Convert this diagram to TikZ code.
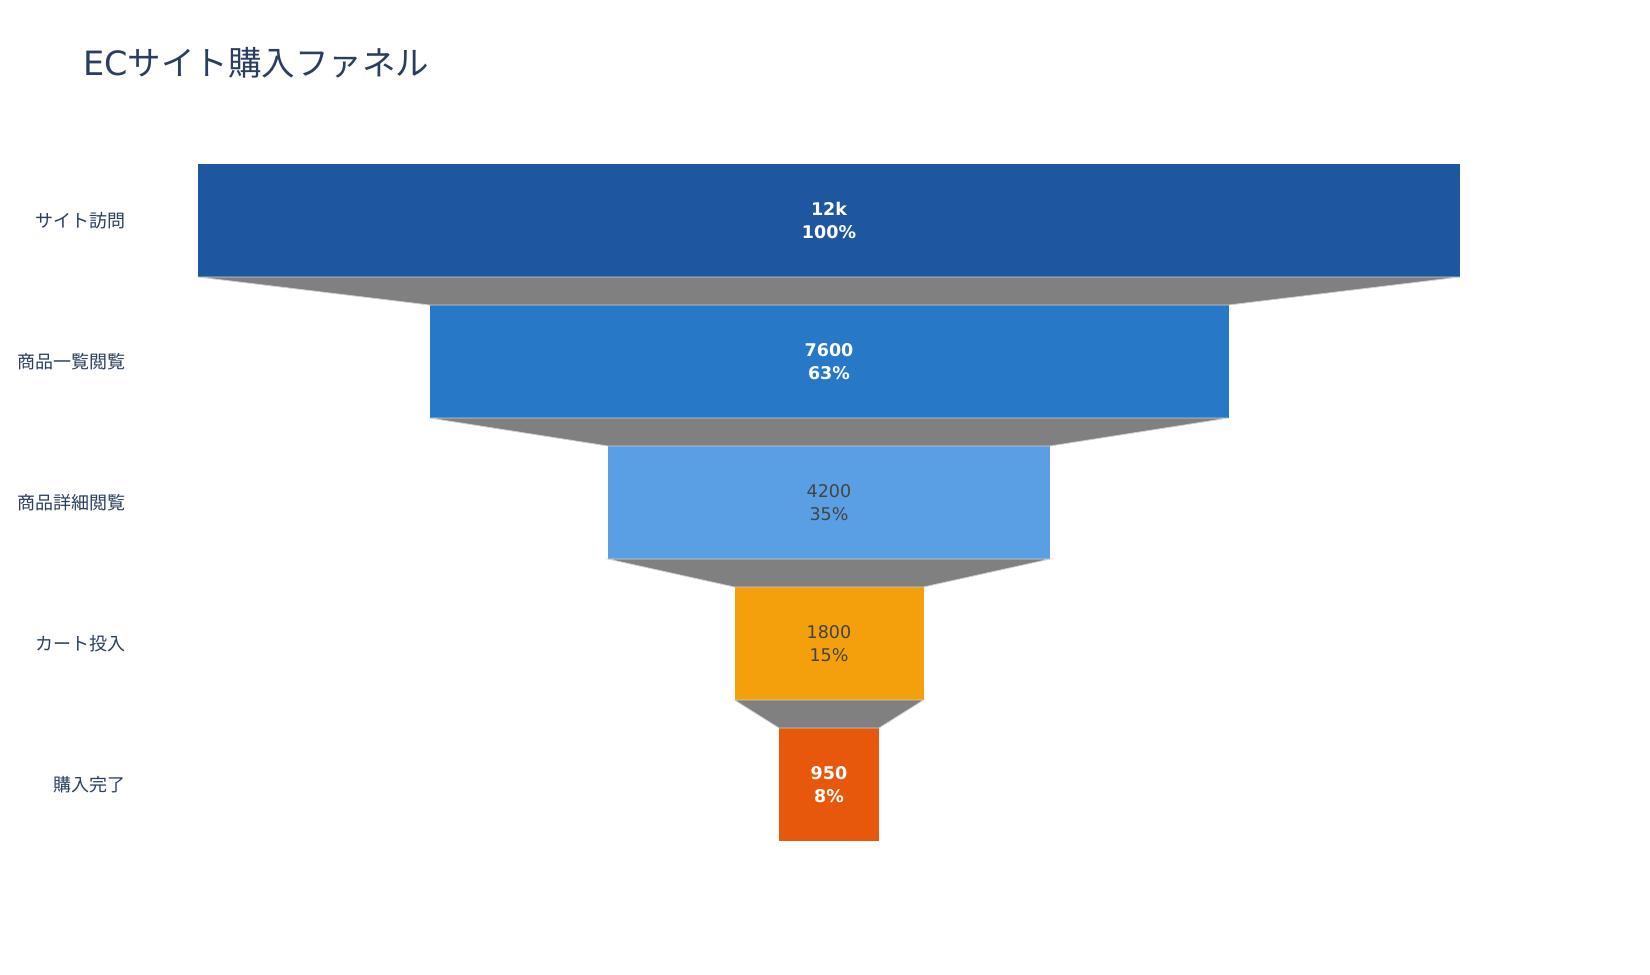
\documentclass[tikz,border=0pt]{standalone}
\usepackage{fontspec}
\setmainfont{DejaVu Sans}
\newfontfamily\jpfont{Noto Sans CJK JP}
\usetikzlibrary{positioning}
\definecolor{inkblue}{HTML}{2A3F5F}
\definecolor{numgray}{HTML}{444444}
\definecolor{visitcol}{HTML}{1F56A0}
\definecolor{listcol}{HTML}{2878C8}
\definecolor{detailcol}{HTML}{5A9FE4}
\definecolor{cartcol}{HTML}{F4A00C}
\definecolor{buycol}{HTML}{E8580C}
\definecolor{linkgray}{HTML}{808080}
\definecolor{linkedge}{HTML}{D0D0D0}

\begin{document}
\begin{tikzpicture}[x=1pt,y=-1pt]
        \tikzset{stage/.style={
                shape=rectangle,
                inner sep=0pt,
                outer sep=0pt,
                align=center,
                minimum height=113pt
            },
            darkstage/.style={stage,
                text=white,
                font=\fontsize{17.5}{23}\selectfont\bfseries
            },
            lightstage/.style={stage,
                text=numgray,
                font=\fontsize{17.5}{23}\selectfont
            },
            lbl/.style={anchor=east,
                inner sep=0pt,
                text=inkblue,
                font=\jpfont\fontsize{18}{21}\selectfont
            },
            link/.style={fill=linkgray,
                draw=linkedge,
                line width=0.8pt
            },
        }
        \useasboundingbox (0,0) rectangle (1650,975);
        \node [anchor=west, inner sep=0pt, text=inkblue, font=\fontsize{33.5}{40}\selectfont] (title) at (83,63)
            {EC{\jpfont サイト購入ファネル}};
        \node [darkstage, fill=visitcol, minimum width=1262pt] (visit) at (829,220.5)
            {12k\\100\%};
        \node [darkstage, fill=listcol, minimum width=799pt, below =28pt of visit] (listview)
            {7600\\63\%};
        \node [lightstage, fill=detailcol, minimum width=442pt, below =28pt of listview] (detail)
            {4200\\35\%};
        \node [lightstage, fill=cartcol, minimum width=189pt, below =28pt of detail] (cart)
            {1800\\15\%};
        \node [darkstage, fill=buycol, minimum width=100pt, below =28pt of cart] (buy)
            {950\\8\%};
%% stage names
        \node [lbl] (visit_lbl) at (126,0 |- visit) {サイト訪問};
        \node [lbl] (listview_lbl) at (126,0 |- listview) {商品一覧閲覧};
        \node [lbl] (detail_lbl) at (126,0 |- detail) {商品詳細閲覧};
        \node [lbl] (cart_lbl) at (126,0 |- cart) {カート投入};
        \node [lbl] (buy_lbl) at (126,0 |- buy) {購入完了};
%% paths
\path[link]
    (visit.south west) -- (listview.north west) -- (listview.north east) -- (visit.south east) -- cycle
    (listview.south west) -- (detail.north west) -- (detail.north east) -- (listview.south east) -- cycle
    (detail.south west) -- (cart.north west) -- (cart.north east) -- (detail.south east) -- cycle
    (cart.south west) -- (buy.north west) -- (buy.north east) -- (cart.south east) -- cycle
;
\end{tikzpicture}
\end{document}
